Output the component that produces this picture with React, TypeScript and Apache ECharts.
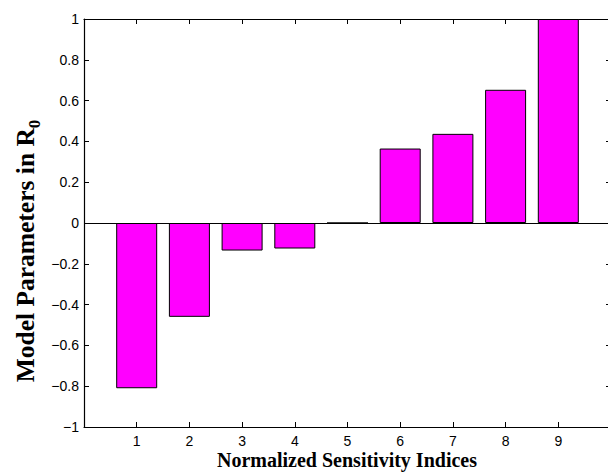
import React, { useEffect, useRef } from "react";
import * as echarts from "echarts";

const categories = [1, 2, 3, 4, 5, 6, 7, 8, 9];
const values = [-0.81, -0.46, -0.135, -0.125, 0.0, 0.365, 0.437, 0.653, 1.0];
const xTicks = [1, 2, 3, 4, 5, 6, 7, 8, 9];
const yTickLabels = ["−1", "−0.8", "−0.6", "−0.4", "−0.2", "0", "0.2", "0.4", "0.6", "0.8", "1"];
const xTitle = "Normalized Sensitivity Indices";
const yTitleMain = "Model Parameters in R";
const yTitleSub = "0";

const tickFont = "'Liberation Sans', Arial, Helvetica, sans-serif";
const titleFont = "'Liberation Serif', 'Times New Roman', serif";

export default function App() {
  const ref = useRef<HTMLDivElement>(null);
  useEffect(() => {
    if (!ref.current) return;
    const chart = echarts.init(ref.current, undefined, { renderer: "svg" });
    const yFmt = (v: number) => {
      const idx = Math.round((v + 1) / 0.2);
      return yTickLabels[idx] ?? "";
    };
    const xFmt = (v: number) => (xTicks.includes(v) ? String(v) : "");
    const axisLine = { show: true, onZero: false, lineStyle: { color: "#000", width: 1.2 } };
    const tick = { show: true, inside: true, length: 5, lineStyle: { color: "#000", width: 1 } };
    chart.setOption({
      animation: false,
      backgroundColor: "#fff",
      grid: {
        left: 84,
        top: 19,
        width: 527,
        height: 408,
        containLabel: false,
        outerBoundsMode: "none",
      },
      xAxis: [
        {
          type: "value",
          min: 0,
          max: 10,
          interval: 1,
          position: "bottom",
          axisLine,
          axisTick: tick,
          splitLine: { show: false },
          axisLabel: {
            formatter: xFmt,
            color: "#000",
            fontSize: 14,
            fontFamily: tickFont,
            margin: 7,
          },
        },
        {
          type: "value",
          min: 0,
          max: 10,
          interval: 1,
          position: "top",
          axisLine,
          axisTick: tick,
          splitLine: { show: false },
          axisLabel: { show: false },
        },
      ],
      yAxis: [
        {
          type: "value",
          min: -1,
          max: 1,
          interval: 0.2,
          position: "left",
          axisLine,
          axisTick: tick,
          splitLine: { show: false },
          axisLabel: {
            formatter: yFmt,
            color: "#000",
            fontSize: 14,
            fontFamily: tickFont,
            margin: 5,
          },
        },
        {
          type: "value",
          min: -1,
          max: 1,
          interval: 0.2,
          position: "right",
          axisLine,
          axisTick: tick,
          splitLine: { show: false },
          axisLabel: { show: false },
        },
      ],
      graphic: [
        {
          type: "text",
          x: 347,
          y: 460,
          style: {
            text: xTitle,
            align: "center",
            verticalAlign: "middle",
            fill: "#000",
            fontSize: 20,
            fontWeight: "bold",
            fontFamily: titleFont,
          },
        },
        {
          type: "text",
          x: 25,
          y: 251,
          rotation: Math.PI / 2,
          style: {
            text: `{a|${yTitleMain}}{b|${yTitleSub}}`,
            align: "center",
            verticalAlign: "middle",
            rich: {
              a: {
                fill: "#000",
                fontSize: 25.5,
                fontWeight: "bold",
                fontFamily: titleFont,
                lineHeight: 36,
              },
              b: {
                fill: "#000",
                fontSize: 17,
                fontWeight: "bold",
                fontFamily: titleFont,
                lineHeight: 18,
                verticalAlign: "bottom",
              },
            },
          },
        },
      ],
      series: [
        {
          type: "bar",
          xAxisIndex: 0,
          yAxisIndex: 0,
          barWidth: 41,
          data: categories.map((c, i) => [c, values[i]]),
          itemStyle: { color: "#ff00ff", borderColor: "#000", borderWidth: 1 },
          markLine: {
            silent: true,
            symbol: "none",
            label: { show: false },
            lineStyle: { color: "#000", width: 1, type: "solid" },
            data: [{ yAxis: 0 }],
          },
        },
      ],
    });
    return () => chart.dispose();
  }, []);
  return (
    <div
      ref={ref}
      style={{ position: "fixed", left: 0, top: 0, width: 608, height: 472, background: "#fff" }}
    />
  );
}
